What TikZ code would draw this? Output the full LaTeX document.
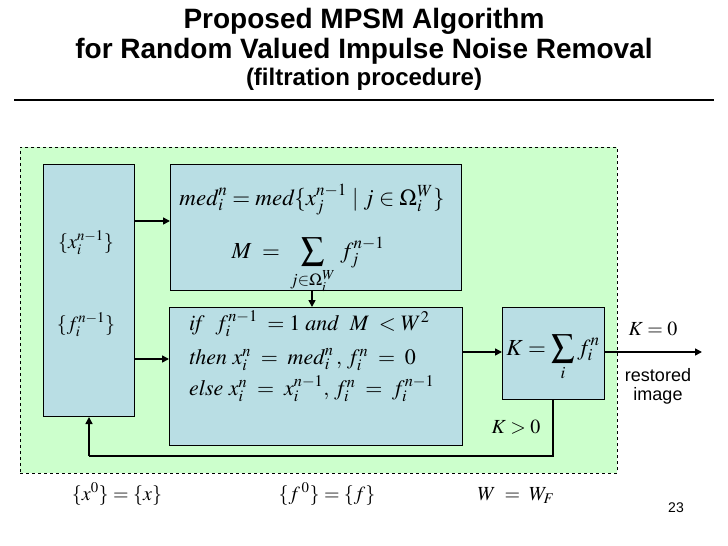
\documentclass[tikz,border=0pt]{standalone}
\usepackage{mathptmx}
\usepackage{fontspec}
\setmainfont{Liberation Serif}
\newfontfamily\arialf{Liberation Sans}
\usetikzlibrary{arrows.meta}
\definecolor{greenbg}{RGB}{204,255,204}
\definecolor{boxblue}{RGB}{185,222,228}
\newcommand{\xeq}{\;=\;}
\begin{document}
\begin{tikzpicture}[x=1pt,y=-1pt,
  titlea/.style={font=\arialf\bfseries\fontsize{28}{30}\selectfont, inner sep=0pt},
  titleb/.style={font=\arialf\bfseries\fontsize{24}{26}\selectfont, inner sep=0pt},
  sans/.style={font=\arialf\fontsize{18}{20}\selectfont, inner sep=0pt, align=center},
  mtext/.style={font=\fontsize{20}{24}\selectfont, inner sep=0pt},
  mbig/.style={font=\fontsize{23}{26}\selectfont, inner sep=0pt},
  mcond/.style={font=\fontsize{22}{26}\selectfont, inner sep=0pt},
  stagebox/.style={draw=black, line width=1pt, fill=boxblue, inner sep=0pt, anchor=north west},
  region/.style={draw=black, dashed, line width=0.9pt, fill=greenbg, inner sep=0pt, anchor=north west},
  arr/.style={-{Triangle[length=7pt,width=7pt]}, line width=1.6pt},
  fb/.style={line width=1.8pt},
]
\useasboundingbox (0,0) rectangle (728,546);
% title
\node[titlea] (t1) at (364,21) {Proposed MPSM Algorithm};
\node[titlea] (t2) at (364,51) {for Random Valued Impulse Noise Removal};
\node[titleb] (t3) at (364,79) {(filtration procedure)};
\coordinate (r1) at (14,100);
\coordinate (r2) at (714,100);
\draw[line width=2pt] (r1) -- (r2);
% region
\node[region, minimum width=597pt, minimum height=326pt] (G) at (20,147) {};
% boxes
\node[stagebox, minimum width=91pt, minimum height=252pt] (L) at (43,164) {};
\node[stagebox, minimum width=291pt, minimum height=126pt] (T) at (170,164) {};
\node[stagebox, minimum width=293pt, minimum height=138pt] (B) at (169,307) {};
\node[stagebox, minimum width=102pt, minimum height=92pt] (K) at (502,307) {};
% texts in left box
\node[mtext] (lx) at (86,243) {$\{x_i^{n-1}\}$};
\node[mtext] (lf) at (86,325) {$\{f_i^{n-1}\}$};
% top box
\node[mbig, anchor=base] (tm1) at (312,205) {$\mathit{med}_i^n=\mathit{med}\{x_j^{n-1}\mid j\in\Omega_i^W\}$};
\node[mbig, anchor=base] (tm2) at (308,258) {$\displaystyle M\;=\;\sum_{j\in\Omega_i^W}\,f_j^{n-1}$};
% bottom box
\node[mcond, anchor=base west] (b1) at (189,330) {$\mathit{if}\ \ f_i^{n-1}\;=1\;\mathit{and}\ \ M\;<W^2$};
\node[mcond, anchor=base west] (b2) at (189,364) {$\mathit{then}\ x_i^n\xeq\mathit{med}_i^n\,,\,f_i^n\xeq 0$};
\node[mcond, anchor=base west] (b3) at (189,395) {$\mathit{else}\ x_i^n\xeq x_i^{n-1},\,f_i^n\xeq f_i^{n-1}$};
% K box
\node[mbig, anchor=base] (km) at (553,355) {$\displaystyle K=\sum_i f_i^n$};
% labels
\node[mtext, anchor=base] (k0) at (653,335) {$K=0$};
\node[sans] (ri) at (658,386) {restored\\[-1pt]image};
\node[mtext, anchor=base] (kg) at (516,433) {$K>0$};
\node[mtext, anchor=base] (bx) at (117,500) {$\{x^0\}=\{x\}$};
\node[mtext, anchor=base] (bf) at (327,500) {$\{f^{\,0}\}=\{f\}$};
\node[mtext, anchor=base] (bw) at (516,500) {$W\;=\;W_F$};
\node[font=\arialf\fontsize{14}{16}\selectfont, inner sep=0pt] (pg) at (676,508) {23};
% connectors
\coordinate (a1) at (0,221);
\coordinate (a2) at (0,359);
\coordinate (a3) at (0,352);
\coordinate (ax) at (312,0);
\coordinate (out) at (702,352);
\coordinate (fy) at (0,456);
\coordinate (fx1) at (553,0);
\coordinate (fx2) at (89,0);
\draw[arr] (L.east|-a1) -- (T.west|-a1);
\draw[arr] (L.east|-a2) -- (B.west|-a2);
\draw[arr] (T.south-|ax) -- (B.north-|ax);
\draw[arr] (B.east|-a3) -- (K.west|-a3);
\draw[arr] (K.east|-a3) -- (out);
\draw[fb] (K.south-|fx1) -- (fx1|-fy) -- (fx2|-fy);
\draw[arr] (fx2|-fy) -- (L.south-|fx2);
\end{tikzpicture}
\end{document}
